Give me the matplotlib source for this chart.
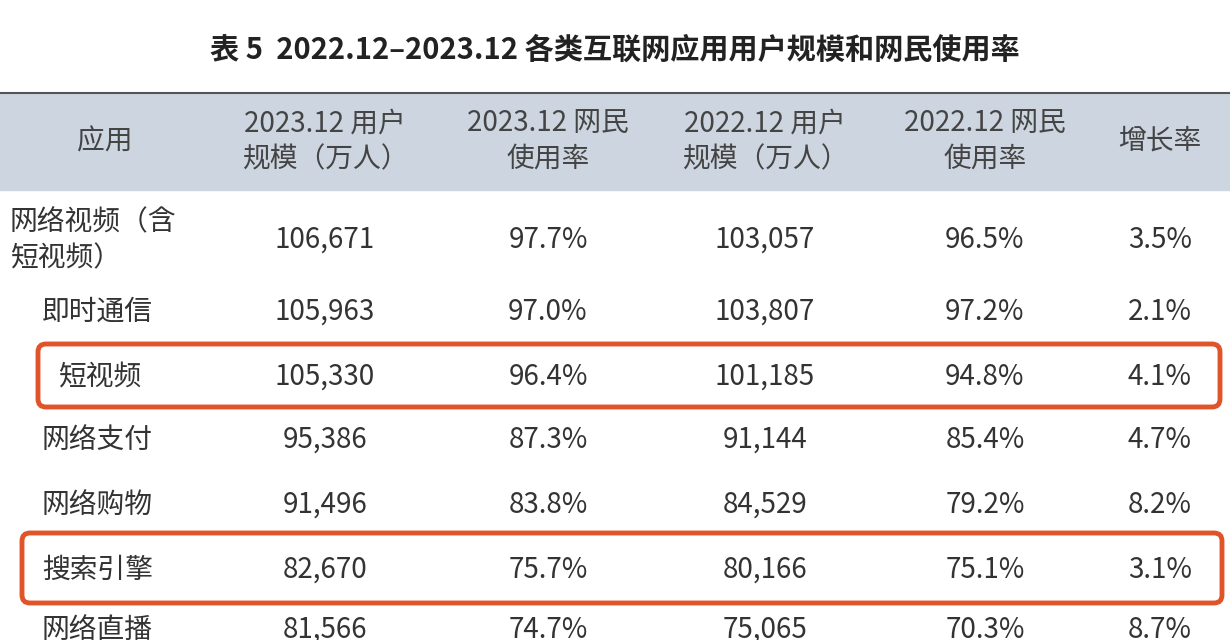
import matplotlib.pyplot as plt
from matplotlib.patches import Rectangle, FancyBboxPatch

plt.rcParams['font.family'] = ['Noto Sans CJK JP', 'Noto Sans CJK SC', 'DejaVu Sans']

title = '表 5  2022.12–2023.12 各类互联网应用用户规模和网民使用率'
headers = ['应用', '2023.12 用户\n规模（万人）', '2023.12 网民\n使用率',
           '2022.12 用户\n规模（万人）', '2022.12 网民\n使用率', '增长率']
apps = ['网络视频（含\n短视频）', '即时通信', '短视频', '网络支付', '网络购物', '搜索引擎', '网络直播']
users_2023 = ['106,671', '105,963', '105,330', '95,386', '91,496', '82,670', '81,566']
rate_2023 = ['97.7%', '97.0%', '96.4%', '87.3%', '83.8%', '75.7%', '74.7%']
users_2022 = ['103,057', '103,807', '101,185', '91,144', '84,529', '80,166', '75,065']
rate_2022 = ['96.5%', '97.2%', '94.8%', '85.4%', '79.2%', '75.1%', '70.3%']
growth = ['3.5%', '2.1%', '4.1%', '4.7%', '8.2%', '3.1%', '8.7%']
highlight = ['短视频', '搜索引擎']

W, H = 1230, 640
fig = plt.figure(figsize=(W / 100, H / 100), dpi=100)
ax = fig.add_axes([0, 0, 1, 1])
ax.set_xlim(0, W)
ax.set_ylim(H, 0)
ax.axis('off')

col_x = [105, 325, 548, 765, 985, 1160]
row_y = [240, 312, 377, 440, 505, 570, 630]
txt = '#333333'

ax.text(W / 2, 50, title, ha='center', va='center', fontsize=21, fontweight='bold', color='#222222')

ax.add_patch(Rectangle((0, 93), W, 97, color='#cdd5e0', zorder=0))
ax.plot([0, W], [93, 93], color='#555555', lw=1.5)
for x, h in zip(col_x, headers):
    ax.text(x, 141, h, ha='center', va='center', fontsize=20, color='#444444', linespacing=1.25)

cols = [apps, users_2023, rate_2023, users_2022, rate_2022, growth]
for ci, col in enumerate(cols):
    for ri, val in enumerate(col):
        x = col_x[ci]
        ha = 'center'
        if ci == 0:
            x = 42 if ri > 0 else 10
            ha = 'left'
            if apps[ri] == '短视频':
                x = 58
        ax.text(x, row_y[ri], val, ha=ha, va='center', fontsize=20, color=txt, linespacing=1.25)

boxes = {'短视频': (38, 344, 1182, 63), '搜索引擎': (22, 533, 1200, 70)}
for name in highlight:
    x0, y0, w, h = boxes[name]
    ax.add_patch(FancyBboxPatch((x0, y0), w, h, boxstyle='round,pad=0,rounding_size=8',
                                fill=False, ec='#e0542a', lw=3.5))

fig.savefig('out.png', dpi=100)
